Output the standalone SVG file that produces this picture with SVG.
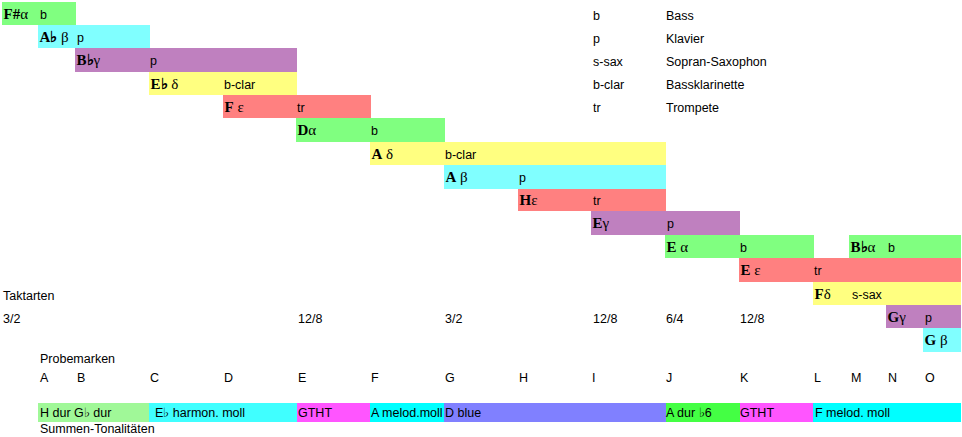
<svg xmlns="http://www.w3.org/2000/svg" width="962" height="437" viewBox="0 0 962 437">
<style>
.s{font-family:"Liberation Sans",Arial,sans-serif;font-size:12.5px;fill:#000}
.n{font-family:"Liberation Serif","Times New Roman",serif;font-size:15px;fill:#000}
.n .b{font-weight:bold}
.g{fill:#80ff80}.c{fill:#80ffff}.p{fill:#bf80bf}.y{fill:#ffff80}.r{fill:#ff8080}
</style>
<rect width="962" height="437" fill="#fff"/>
<g id="bar-Fsharp-alpha"><rect class="g" x="2" y="2" width="74" height="23"/><text class="n" x="3.5" y="19"><tspan class="b">F#</tspan>α</text><text class="s" x="40" y="19">b</text></g>
<g id="bar-Aflat-beta"><rect class="c" x="38" y="25" width="112" height="23"/><text class="n" x="39.5" y="42"><tspan class="b">A♭</tspan> β</text><text class="s" x="77" y="42">p</text></g>
<g id="bar-Bflat-gamma"><rect class="p" x="75" y="48" width="222" height="24"/><text class="n" x="76.5" y="65"><tspan class="b">B♭</tspan>γ</text><text class="s" x="150" y="65">p</text></g>
<g id="bar-Eflat-delta"><rect class="y" x="149" y="72" width="148" height="23"/><text class="n" x="150.5" y="89"><tspan class="b">E♭</tspan> δ</text><text class="s" x="224" y="89">b-clar</text></g>
<g id="bar-F-epsilon"><rect class="r" x="223" y="95" width="148" height="23"/><text class="n" x="224.5" y="112"><tspan class="b">F</tspan> ε</text><text class="s" x="297" y="112">tr</text></g>
<g id="bar-D-alpha"><rect class="g" x="296" y="118" width="149" height="24"/><text class="n" x="297.5" y="135"><tspan class="b">D</tspan>α</text><text class="s" x="371" y="135">b</text></g>
<g id="bar-A-delta"><rect class="y" x="370" y="142" width="296" height="23"/><text class="n" x="371.5" y="159"><tspan class="b">A</tspan> δ</text><text class="s" x="445" y="159">b-clar</text></g>
<g id="bar-A-beta"><rect class="c" x="444" y="165" width="222" height="24"/><text class="n" x="445.5" y="182"><tspan class="b">A</tspan> β</text><text class="s" x="519" y="182">p</text></g>
<g id="bar-H-epsilon"><rect class="r" x="518" y="189" width="148" height="22"/><text class="n" x="519.5" y="205"><tspan class="b">H</tspan>ε</text><text class="s" x="593" y="205">tr</text></g>
<g id="bar-E-gamma"><rect class="p" x="591" y="211" width="149" height="24"/><text class="n" x="592.5" y="228"><tspan class="b">E</tspan>γ</text><text class="s" x="667" y="228">p</text></g>
<g id="bar-E-alpha"><rect class="g" x="665" y="235" width="149" height="23"/><text class="n" x="666.5" y="252"><tspan class="b">E</tspan> α</text><text class="s" x="740" y="252">b</text></g>
<g id="bar-Bflat-alpha"><rect class="g" x="849" y="235" width="112" height="23"/><text class="n" x="850.5" y="252"><tspan class="b">B♭</tspan>α</text><text class="s" x="888" y="252">b</text></g>
<g id="bar-E-epsilon"><rect class="r" x="739" y="258" width="222" height="24"/><text class="n" x="740.5" y="275"><tspan class="b">E</tspan> ε</text><text class="s" x="814" y="275">tr</text></g>
<g id="bar-F-delta"><rect class="y" x="813" y="282" width="148" height="23"/><text class="n" x="814.5" y="299"><tspan class="b">F</tspan>δ</text><text class="s" x="852" y="299">s-sax</text></g>
<g id="bar-G-gamma"><rect class="p" x="886" y="305" width="75" height="23"/><text class="n" x="887.5" y="322"><tspan class="b">G</tspan>γ</text><text class="s" x="925" y="322">p</text></g>
<g id="bar-G-beta"><rect class="c" x="923" y="328" width="38" height="24"/><text class="n" x="924.5" y="345"><tspan class="b">G</tspan> β</text></g>
<g id="legend">
<text class="s" x="593" y="20">b</text><text class="s" x="666" y="20">Bass</text>
<text class="s" x="593" y="43">p</text><text class="s" x="666" y="43">Klavier</text>
<text class="s" x="593" y="66">s-sax</text><text class="s" x="666" y="66">Sopran-Saxophon</text>
<text class="s" x="593" y="89">b-clar</text><text class="s" x="666" y="89">Bassklarinette</text>
<text class="s" x="593" y="112">tr</text><text class="s" x="666" y="112">Trompete</text>
</g>
<g id="taktarten">
<text class="s" x="3" y="300">Taktarten</text>
<text class="s" x="3" y="323">3/2</text>
<text class="s" x="298" y="323">12/8</text>
<text class="s" x="445" y="323">3/2</text>
<text class="s" x="593" y="323">12/8</text>
<text class="s" x="666" y="323">6/4</text>
<text class="s" x="740" y="323">12/8</text>
</g>
<g id="probemarken">
<text class="s" x="40" y="363">Probemarken</text>
<text class="s" x="40" y="382">A</text><text class="s" x="77" y="382">B</text><text class="s" x="150" y="382">C</text><text class="s" x="224" y="382">D</text><text class="s" x="298" y="382">E</text><text class="s" x="371" y="382">F</text><text class="s" x="445" y="382">G</text><text class="s" x="519" y="382">H</text><text class="s" x="592" y="382">I</text><text class="s" x="666" y="382">J</text><text class="s" x="740" y="382">K</text><text class="s" x="814" y="382">L</text><text class="s" x="851" y="382">M</text><text class="s" x="888" y="382">N</text><text class="s" x="925" y="382">O</text>
</g>
<g id="summen-tonalitaeten">
<rect x="38" y="403" width="111" height="19" fill="#a0f898"/>
<rect x="149" y="403" width="148" height="19" fill="#40ffff"/>
<rect x="297" y="403" width="73" height="19" fill="#ff55ff"/>
<rect x="370" y="403" width="74" height="19" fill="#00ffff"/>
<rect x="444" y="403" width="222" height="19" fill="#8080ff"/>
<rect x="666" y="403" width="74" height="19" fill="#44ff44"/>
<rect x="740" y="403" width="73" height="19" fill="#ff55ff"/>
<rect x="813" y="403" width="148" height="19" fill="#00ffff"/>
<text class="s" x="40" y="417">H dur  G♭ dur</text>
<text class="s" x="155" y="417">E♭ harmon.  moll</text>
<text class="s" x="298" y="417">GTHT</text>
<text class="s" x="371" y="417">A melod.moll</text>
<text class="s" x="445" y="417">D blue</text>
<text class="s" x="666" y="417">A dur ♭6</text>
<text class="s" x="740" y="417">GTHT</text>
<text class="s" x="815" y="417">F melod. moll</text>
<text class="s" x="40" y="433">Summen-Tonalitäten</text>
</g>
</svg>
